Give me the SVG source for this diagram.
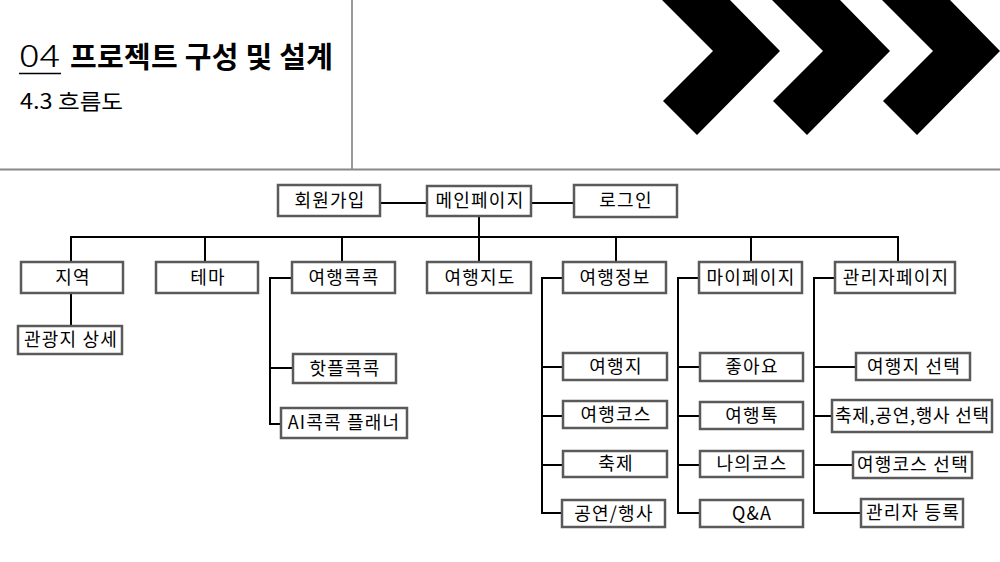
<svg xmlns="http://www.w3.org/2000/svg" width="1000" height="562" viewBox="0 0 1000 562">
<style>
.box{fill:#fff;stroke:#5a5a5a;stroke-width:2.5}
.t{font-family:"Noto Sans CJK KR","Noto Sans",sans-serif;font-size:18px;letter-spacing:1.2px;fill:#000;text-anchor:middle}
.ln{fill:none;stroke:#000;stroke-width:2}
</style>
<rect width="1000" height="562" fill="#fff"/>
<g id="header">
<line x1="352" y1="0" x2="352" y2="169" stroke="#777" stroke-width="1.5"/>
<line x1="0" y1="169.5" x2="1000" y2="169.5" stroke="#888" stroke-width="2"/>
<text x="19" y="67" font-family="'Noto Sans CJK KR','Noto Sans',sans-serif" font-size="31" font-weight="300" textLength="41" lengthAdjust="spacingAndGlyphs">04</text>
<line x1="19" y1="73.5" x2="61" y2="73.5" stroke="#000" stroke-width="1.3"/>
<text x="70" y="68" font-family="'Noto Sans CJK KR',sans-serif" font-size="29" font-weight="700" textLength="263">프로젝트 구성 및 설계</text>
<text x="20" y="109" font-family="'Noto Sans CJK KR',sans-serif" font-size="21" textLength="103" lengthAdjust="spacingAndGlyphs">4.3 흐름도</text>
<polygon points="662,0 730,0 780,51 697,135 663,101 713,51" fill="#000"/>
<polygon points="772,0 840,0 890,51 807,135 773,101 823,51" fill="#000"/>
<polygon points="882,0 950,0 1000,51 917,135 883,101 933,51" fill="#000"/>
</g>
<g id="connectors" class="ln">
<line x1="380" y1="203" x2="427" y2="203"/>
<line x1="531" y1="203" x2="574" y2="203"/>
<line x1="479" y1="216" x2="479" y2="262"/>
<polyline points="71,262 71,237 898,237 898,262"/>
<line x1="205" y1="237" x2="205" y2="262"/>
<line x1="342" y1="237" x2="342" y2="262"/>
<line x1="616" y1="237" x2="616" y2="262"/>
<line x1="751" y1="237" x2="751" y2="262"/>
<line x1="71" y1="293" x2="71" y2="326"/>
<polyline points="292,278 270,278 270,424 281,424"/>
<line x1="270" y1="368" x2="293" y2="368"/>
<polyline points="563,278 542,278 542,513 562,513"/>
<line x1="542" y1="367" x2="563" y2="367"/>
<line x1="542" y1="416" x2="563" y2="416"/>
<line x1="542" y1="465" x2="563" y2="465"/>
<polyline points="699,278 678,278 678,513 700,513"/>
<line x1="678" y1="367" x2="700" y2="367"/>
<line x1="678" y1="416" x2="700" y2="416"/>
<line x1="678" y1="465" x2="700" y2="465"/>
<polyline points="835,278 814,278 814,513 861,513"/>
<line x1="814" y1="367" x2="856" y2="367"/>
<line x1="814" y1="416" x2="832" y2="416"/>
<line x1="814" y1="465" x2="853" y2="465"/>
</g>
<g id="n-signup"><rect class="box" x="278" y="185" width="102" height="31"/><text class="t" x="330" y="207">회원가입</text></g>
<g id="n-main"><rect class="box" x="427" y="186" width="104" height="30"/><text class="t" x="480" y="207">메인페이지</text></g>
<g id="n-login"><rect class="box" x="574" y="185" width="103" height="32"/><text class="t" x="626" y="207">로그인</text></g>
<g id="n-region"><rect class="box" x="21" y="262" width="102" height="31"/><text class="t" x="73" y="284">지역</text></g>
<g id="n-theme"><rect class="box" x="156" y="262" width="102" height="31"/><text class="t" x="208" y="284">테마</text></g>
<g id="n-kokkok"><rect class="box" x="292" y="262" width="103" height="31"/><text class="t" x="344" y="284">여행콕콕</text></g>
<g id="n-map"><rect class="box" x="427" y="262" width="104" height="31"/><text class="t" x="480" y="284">여행지도</text></g>
<g id="n-info"><rect class="box" x="563" y="262" width="103" height="31"/><text class="t" x="615" y="284">여행정보</text></g>
<g id="n-mypage"><rect class="box" x="699" y="262" width="103" height="31"/><text class="t" x="751" y="284">마이페이지</text></g>
<g id="n-admin"><rect class="box" x="835" y="262" width="120" height="31"/><text class="t" x="896" y="284">관리자페이지</text></g>
<g id="n-detail"><rect class="box" x="18" y="326" width="104" height="28"/><text class="t" x="71" y="346">관광지 상세</text></g>
<g id="n-hotple"><rect class="box" x="293" y="354" width="103" height="29"/><text class="t" x="345" y="375">핫플콕콕</text></g>
<g id="n-ai"><rect class="box" x="281" y="408" width="126" height="30"/><text class="t" x="344" y="429">AI콕콕 플래너</text></g>
<g id="n-spot"><rect class="box" x="563" y="353" width="104" height="27"/><text class="t" x="616" y="373">여행지</text></g>
<g id="n-course"><rect class="box" x="563" y="401" width="104" height="27"/><text class="t" x="616" y="421">여행코스</text></g>
<g id="n-fest"><rect class="box" x="563" y="451" width="104" height="26"/><text class="t" x="616" y="470">축제</text></g>
<g id="n-event"><rect class="box" x="562" y="500" width="103" height="27"/><text class="t" x="614" y="520">공연/행사</text></g>
<g id="n-like"><rect class="box" x="700" y="353" width="103" height="28"/><text class="t" x="752" y="373">좋아요</text></g>
<g id="n-talk"><rect class="box" x="700" y="402" width="103" height="27"/><text class="t" x="752" y="422">여행톡</text></g>
<g id="n-mycourse"><rect class="box" x="700" y="451" width="103" height="26"/><text class="t" x="752" y="470">나의코스</text></g>
<g id="n-qa"><rect class="box" x="700" y="500" width="103" height="27"/><text class="t" x="752" y="520">Q&amp;A</text></g>
<g id="n-selspot"><rect class="box" x="856" y="353" width="114" height="27"/><text class="t" x="914" y="373">여행지 선택</text></g>
<g id="n-selfest"><rect class="box" x="832" y="400" width="160" height="32"/><text class="t" x="912" y="422" style="letter-spacing:0" textLength="154">축제,공연,행사 선택</text></g>
<g id="n-selcourse"><rect class="box" x="853" y="452" width="119" height="26"/><text class="t" x="913" y="471">여행코스 선택</text></g>
<g id="n-reg"><rect class="box" x="861" y="499" width="102" height="28"/><text class="t" x="913" y="519">관리자 등록</text></g>
</svg>
